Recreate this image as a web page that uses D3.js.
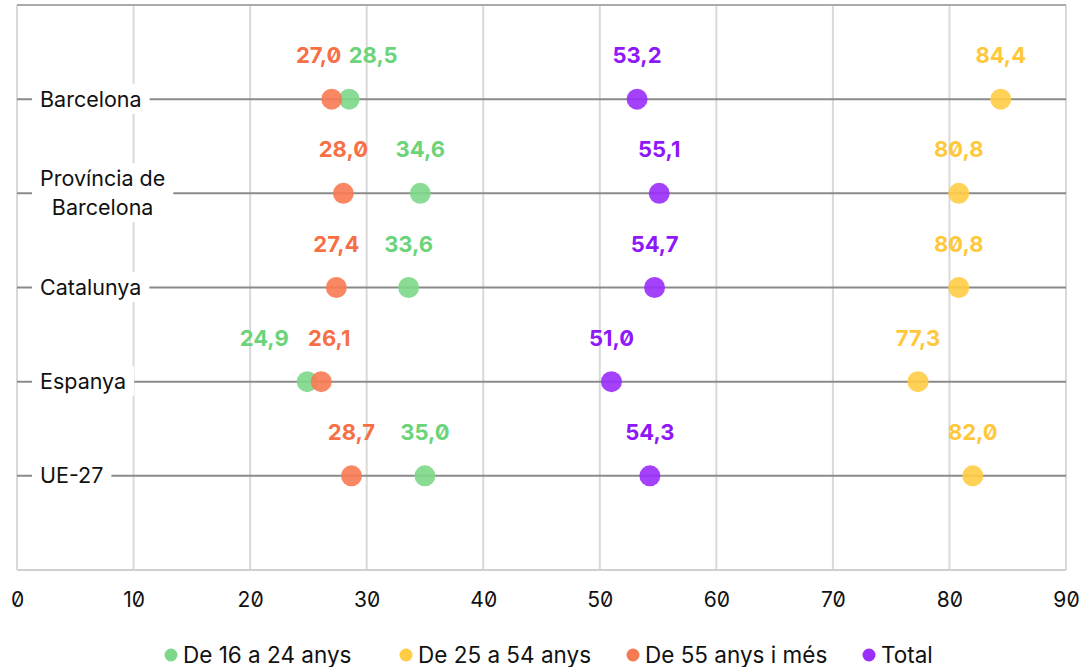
<!DOCTYPE html>
<html>
    <head>
        <meta charset="utf-8">
        <script src="https://d3js.org/d3.v7.min.js"></script>
        <style>
            body { margin: 0; background: #fff; }
            text { font-family: Inter, "Noto Sans", sans-serif; font-feature-settings: "zero" 1; }
        </style>
    </head>
    <body>
        <div id="chart"></div>
        <script>
            // data
            const categories = ["Barcelona", "Província de Barcelona", "Catalunya", "Espanya", "UE-27"]
            const seriesNames = ["De 16 a 24 anys", "De 25 a 54 anys", "De 55 anys i més", "Total"]
            const young = [28.5, 34.6, 33.6, 24.9, 35.0]
            const middle = [84.4, 80.8, 80.8, 77.3, 82.0]
            const older = [27.0, 28.0, 27.4, 26.1, 28.7]
            const total = [53.2, 55.1, 54.7, 51.0, 54.3]
            const xTicks = [0, 10, 20, 30, 40, 50, 60, 70, 80, 90]
            const colors = ["#7dd88a", "#ffcc44", "#f87a52", "#9a2efb"]
            const labelColors = ["#6bd47a", "#ffc83a", "#f76f45", "#8f18f8"]

            // label nudges (px) where labels would collide
            const nudge = {"Barcelona|0": 24, "Barcelona|2": -13, "Espanya|0": -43, "Espanya|2": 8}

            const width = 1084, height = 667
            const margin = {top: 5, right: 18, bottom: 97, left: 17}

            const svg = d3.select("#chart").append("svg")
                .attr("width", width).attr("height", height)

            const x = d3.scaleLinear([0, 90], [margin.left, width - margin.right])
            const y = d3.scalePoint(categories, [margin.top, height - margin.bottom]).padding(1)

            // vertical grid
            svg.append("g").selectAll("line").data(xTicks).join("line")
                .attr("x1", d => x(d)).attr("x2", d => x(d))
                .attr("y1", margin.top).attr("y2", height - margin.bottom)
                .attr("stroke", "#d9d9d9").attr("stroke-width", 2)

            svg.append("line")
                .attr("x1", margin.left).attr("x2", width - margin.right)
                .attr("y1", margin.top).attr("y2", margin.top)
                .attr("stroke", "#aaa").attr("stroke-width", 2)
            svg.append("line")
                .attr("x1", margin.left).attr("x2", width - margin.right)
                .attr("y1", height - margin.bottom).attr("y2", height - margin.bottom)
                .attr("stroke", "#d0d0d0").attr("stroke-width", 2)

            // x axis labels
            const xAxis = d3.axisBottom(x).tickValues(xTicks).tickSize(0).tickPadding(22)
            svg.append("g")
                .attr("transform", `translate(0,${height - margin.bottom})`)
                .call(xAxis)
                .call(g => g.select(".domain").remove())
                .selectAll("text")
                .attr("font-family", "Inter, sans-serif")
                .attr("font-size", 21).attr("fill", "#111")

            // row lines
            svg.append("g").selectAll("line").data(categories).join("line")
                .attr("x1", margin.left).attr("x2", width - margin.right)
                .attr("y1", d => y(d)).attr("y2", d => y(d))
                .attr("stroke", "#8a8a8a").attr("stroke-width", 2)

            // category labels on white boxes
            const catLines = {"Província de Barcelona": ["Província de", "Barcelona"]}
            const cat = svg.append("g").selectAll("g").data(categories).join("g")
            cat.each(function(d) {
                const g = d3.select(this)
                const lines = catLines[d] || [d]
                const lh = 29
                const t = g.append("text")
                    .attr("font-size", 21.5).attr("fill", "#111")
                    .attr("text-anchor", "middle")
                lines.forEach((l, i) => {
                    t.append("tspan").attr("x", 0)
                        .attr("y", y(d) + (i - (lines.length - 1) / 2) * lh)
                        .attr("dy", "0.35em").text(l)
                })
                const bb = t.node().getBBox()
                const left = 40
                t.attr("transform", `translate(${left + bb.width / 2},0)`)
                g.insert("rect", "text")
                    .attr("x", left - 8).attr("width", bb.width + 16)
                    .attr("y", bb.y - 2).attr("height", bb.height + 4)
                    .attr("fill", "#fff")
            })

            const series = [young, middle, older, total]
            const points = []
            series.forEach((vals, s) => vals.forEach((v, i) => points.push({s, cat: categories[i], v})))

            // dots
            svg.append("g").selectAll("circle").data(points).join("circle")
                .attr("cx", d => x(d.v)).attr("cy", d => y(d.cat))
                .attr("r", 10.5)
                .attr("fill", d => colors[d.s]).attr("fill-opacity", 0.9)

            // value labels
            const fmt = v => v.toFixed(1).replace(".", ",")
            svg.append("g").selectAll("text").data(points).join("text")
                .attr("x", d => x(d.v) + (nudge[d.cat + "|" + d.s] || 0))
                .attr("y", d => y(d.cat) - 36)
                .attr("text-anchor", "middle")
                .attr("font-size", 22).attr("font-weight", 700)
                .attr("fill", d => labelColors[d.s])
                .text(d => fmt(d.v))

            // legend
            const legendX = [171, 406, 633, 869]
            const leg = svg.append("g").selectAll("g").data(seriesNames).join("g")
                .attr("transform", (d, i) => `translate(${legendX[i]},655)`)
            leg.append("circle").attr("r", 6.5).attr("fill", (d, i) => colors[i])
            leg.append("text").attr("x", 12).attr("dy", "0.35em")
                .attr("font-family", "Roboto, sans-serif")
                .attr("font-size", 22.5).attr("fill", "#111")
                .text(d => d)
        </script>
    </body>
</html>
